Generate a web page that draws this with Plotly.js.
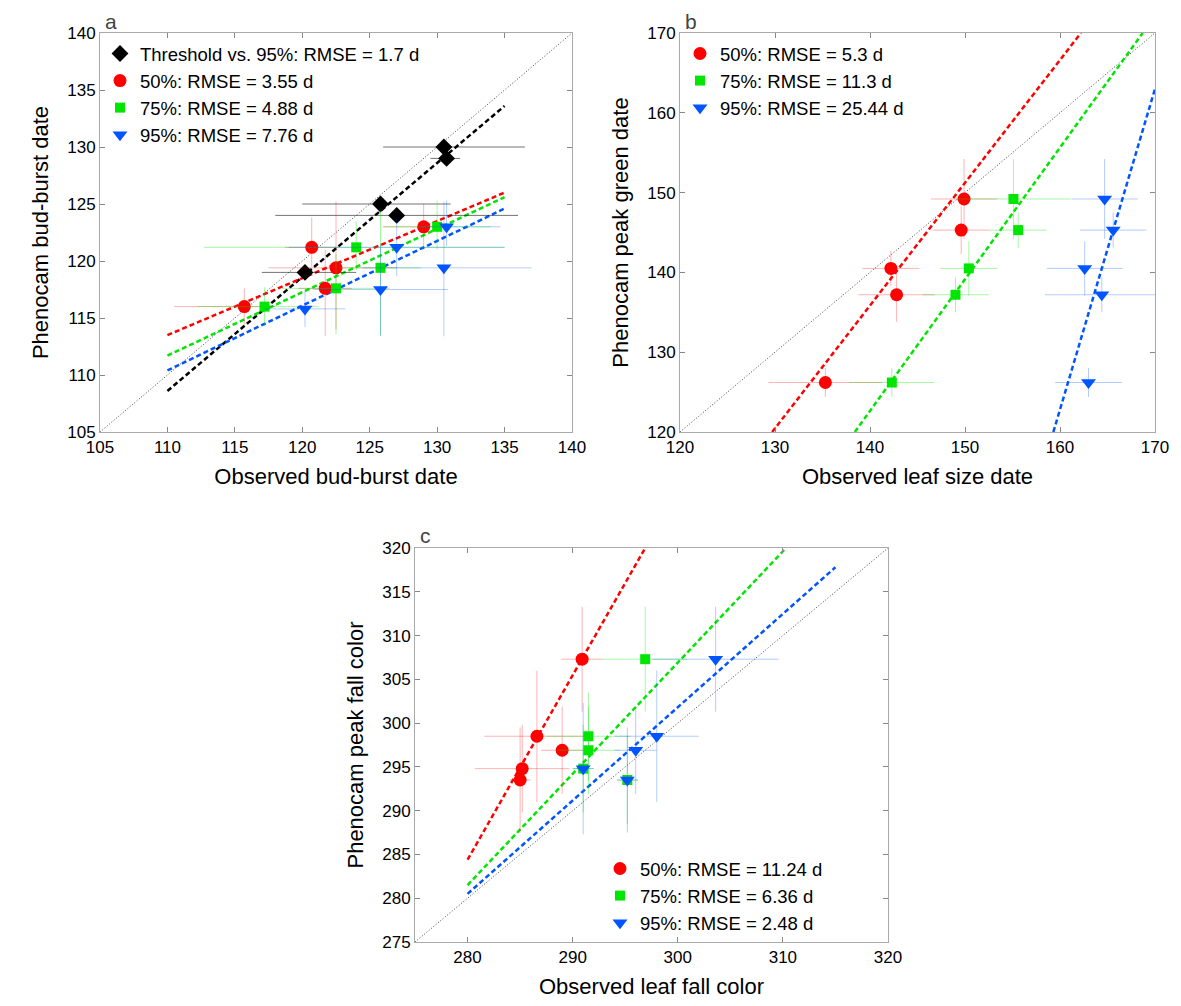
<!DOCTYPE html>
<html><head><script src="https://cdn.plot.ly/plotly-3.0.1.min.js"></script>
<style>body{margin:0}</style></head><body><div id="c" style="width:1181px;height:1006px"></div>
<script>
// Panel a
const aBlkX=[120.2,125.8,127,130.5,130.7], aBlkY=[119,125,124,130,129];
const aBlkXm=[3.2,5.8,9,4.5,1.2], aBlkXp=[3.8,5.2,9,6,1];
const aRedX=[115.7,120.7,122.5,121.7,129], aRedY=[116,121.2,119.4,117.6,123];
const aRedXm=[5.2,2,5,2,3], aRedXp=[2.3,2,4.5,2,2];
const aRedYm=[1.6,1.7,5.4,4.2,2], aRedYp=[1.6,2.6,5.8,3.4,2];
const aGrnX=[117.2,122.5,124,125.8,130], aGrnY=[116,117.6,121.2,119.4,123];
const aGrnXm=[5,4,11.3,3,4], aGrnXp=[4,4,11,3,4];
const aGrnYm=[1.7,4,2,6,2], aGrnYp=[1.7,3,2.3,5,2.3];
const aBluX=[120.2,125.8,127,130.7,130.5], aBluY=[115.8,117.5,121.2,123,119.4];
const aBluXm=[3,5,8,2,6], aBluXp=[3,5,8,4,6.5];
const aBluYm=[1.6,4,2.5,1.7,6], aBluYp=[1.6,4,2.5,2.3,5.8];
const aFitX=[110,135];
const aBlkFit=[108.6,133.6], aRedFit=[113.5,126], aGrnFit=[111.7,125.6], aBluFit=[110.4,124.6];
// Panel b
const bRedX=[135.3,142.2,142.8,149.6,149.9], bRedY=[126.2,140.5,137.2,145.3,149.2];
const bGrnX=[142.3,149,150.4,155.1,155.6], bGrnY=[126.2,137.2,140.5,149.2,145.3];
const bBluX=[163,164.4,162.6,164.7,165.6], bBluY=[126.2,137.2,140.5,149.2,145.3];
const bErrX=[6,3,4,3,3.5], bErrY=[1.8,2.2,3.4,3,5];
const bGrnErrX=[4.5,3.5,3,6,3], bGrnErrY=[1.8,2.2,3.4,5,2.2];
const bBluErrX=[3.5,6,4,3.5,3.5], bBluErrY=[1.8,2.2,3.4,5,2.2];
const bRedFitX=[129.7,162.2], bRedFitY=[120,170];
const bGrnFitX=[138.4,168.7], bGrnFitY=[120,170];
const bBluFitX=[159.3,170], bBluFitY=[120,163];
// Panel c
const cRedX=[285,285.2,286.6,289,290.9], cRedY=[293.5,294.8,298.5,296.9,307.3];
const cRedErrX=[1,4.5,5,2,2], cRedErrY=[6,5,7.5,5,6];
const cGrnX=[291,291.5,291.5,296.9,295.2], cGrnY=[294.8,296.9,298.5,307.3,293.5];
const cGrnErrX=[1,3,4,4,1], cGrnErrY=[5,5,5,6,5];
const cBluX=[291,295.2,296,298,303.6], cBluY=[294.8,293.5,296.9,298.5,307.3];
const cBluErrX=[1,1,2,4,6], cBluErrY=[7.5,6,5,7.5,6];
const cRedFitX=[280,296.9], cRedFitY=[284.4,320];
const cGrnFitX=[280,310.3], cGrnFitY=[281.5,320];
const cBluFitX=[280,315], cBluFitY=[280.5,317.8];

const RED='#ff0000',GRN='#00e600',BLU='#0055ff';
const eRED='rgba(255,0,0,0.3)',eGRN='rgba(0,230,0,0.35)',eBLU='rgba(0,85,255,0.3)',eBLK='rgba(0,0,0,0.55)';
function pts(x,y,ex,ey,col,ecol,sym,sz,name,xa,ya,leg,exm,eym){
  const t={x,y,mode:'markers',type:'scatter',name,xaxis:xa,yaxis:ya,legend:leg,
    marker:{color:col,symbol:sym,size:sz}};
  if(ex) t.error_x={type:'data',array:ex,arrayminus:exm||ex,color:ecol,thickness:1,width:0};
  if(ey) t.error_y={type:'data',array:ey,arrayminus:eym||ey,color:ecol,thickness:1,width:0};
  return t;}
function ln(x,y,col,xa,ya,dash,w){return {x,y,mode:'lines',type:'scatter',showlegend:false,xaxis:xa,yaxis:ya,hoverinfo:'skip',line:{color:col,dash:dash||'5px,3px',width:w||2.5}};}
const data=[
 ln([105,140],[105,140],'#444','x','y','1px,2px',1),
 ln(aFitX,aBlkFit,'#000','x','y'),ln(aFitX,aRedFit,RED,'x','y'),ln(aFitX,aGrnFit,GRN,'x','y'),ln(aFitX,aBluFit,BLU,'x','y'),
 pts(aBlkX,aBlkY,aBlkXp,null,'#000',eBLK,'diamond',13,'Threshold vs. 95%: RMSE = 1.7 d','x','y','legend',aBlkXm),
 pts(aRedX,aRedY,aRedXp,aRedYp,RED,eRED,'circle',13,'50%: RMSE = 3.55 d','x','y','legend',aRedXm,aRedYm),
 pts(aGrnX,aGrnY,aGrnXp,aGrnYp,GRN,eGRN,'square',10,'75%: RMSE = 4.88 d','x','y','legend',aGrnXm,aGrnYm),
 pts(aBluX,aBluY,aBluXp,aBluYp,BLU,eBLU,'triangle-down',13,'95%: RMSE = 7.76 d','x','y','legend',aBluXm,aBluYm),
 ln([120,170],[120,170],'#444','x2','y2','1px,2px',1),
 ln(bRedFitX,bRedFitY,RED,'x2','y2'),ln(bGrnFitX,bGrnFitY,GRN,'x2','y2'),ln(bBluFitX,bBluFitY,BLU,'x2','y2'),
 pts(bRedX,bRedY,bErrX,bErrY,RED,eRED,'circle',13,'50%: RMSE = 5.3 d','x2','y2','legend2'),
 pts(bGrnX,bGrnY,bGrnErrX,bGrnErrY,GRN,eGRN,'square',10,'75%: RMSE = 11.3 d','x2','y2','legend2'),
 pts(bBluX,bBluY,bBluErrX,bBluErrY,BLU,eBLU,'triangle-down',13,'95%: RMSE = 25.44 d','x2','y2','legend2'),
 ln([275,320],[275,320],'#444','x3','y3','1px,2px',1),
 ln(cRedFitX,cRedFitY,RED,'x3','y3'),ln(cGrnFitX,cGrnFitY,GRN,'x3','y3'),ln(cBluFitX,cBluFitY,BLU,'x3','y3'),
 pts(cRedX,cRedY,cRedErrX,cRedErrY,RED,eRED,'circle',13,'50%: RMSE = 11.24 d','x3','y3','legend3'),
 pts(cGrnX,cGrnY,cGrnErrX,cGrnErrY,GRN,eGRN,'square',10,'75%: RMSE = 6.36 d','x3','y3','legend3'),
 pts(cBluX,cBluY,cBluErrX,cBluErrY,BLU,eBLU,'triangle-down',13,'95%: RMSE = 2.48 d','x3','y3','legend3'),
];
const W=1181,H=1006;
function ax(lo,hi,d,title,anchor,dt){return {range:[lo,hi],domain:d,anchor,dtick:dt,tick0:lo,showgrid:false,zeroline:false,mirror:'ticks',ticks:'inside',ticklen:5,tickcolor:'#888',showline:true,linecolor:'#aaa',linewidth:1,tickfont:{size:17,color:'#000'},title:{text:title,font:{size:22,color:'#000'},standoff:12}};}
const leg=(x,y)=>({x,y,xanchor:'left',yanchor:'top',bgcolor:'rgba(0,0,0,0)',font:{size:18.5,color:'#000'},tracegroupgap:0,itemwidth:30});
const layout={width:W,height:H,margin:{l:0,r:0,t:0,b:0},paper_bgcolor:'#fff',plot_bgcolor:'#fff',
 font:{family:'Liberation Sans, Arial, sans-serif'},
 xaxis:ax(105,140,[100/W,572/W],'Observed bud-burst date','y',5),
 yaxis:ax(105,140,[1-432/H,1-33/H],'Phenocam bud-burst date','x',5),
 xaxis2:ax(120,170,[680/W,1155/W],'Observed leaf size date','y2',10),
 yaxis2:ax(120,170,[1-432/H,1-33/H],'Phenocam peak green date','x2',10),
 xaxis3:ax(275,320,[415/W,888/W],'Observed leaf fall color','y3',10),
 yaxis3:ax(275,320,[1-942/H,1-548/H],'Phenocam peak fall color','x3',5),
 legend:leg(100/W,1-35/H), legend2:leg(680/W,1-35/H), legend3:leg(600/W,1-850/H),
 annotations:[
  {text:'a',x:103/W,y:1-8/H,xref:'paper',yref:'paper',showarrow:false,xanchor:'left',yanchor:'top',font:{size:21}},
  {text:'b',x:683/W,y:1-8/H,xref:'paper',yref:'paper',showarrow:false,xanchor:'left',yanchor:'top',font:{size:21}},
  {text:'c',x:418/W,y:1-522/H,xref:'paper',yref:'paper',showarrow:false,xanchor:'left',yanchor:'top',font:{size:21}}]
};
layout.xaxis3.tick0=280;
Plotly.newPlot('c',data,layout,{displayModeBar:false});
</script></body></html>
